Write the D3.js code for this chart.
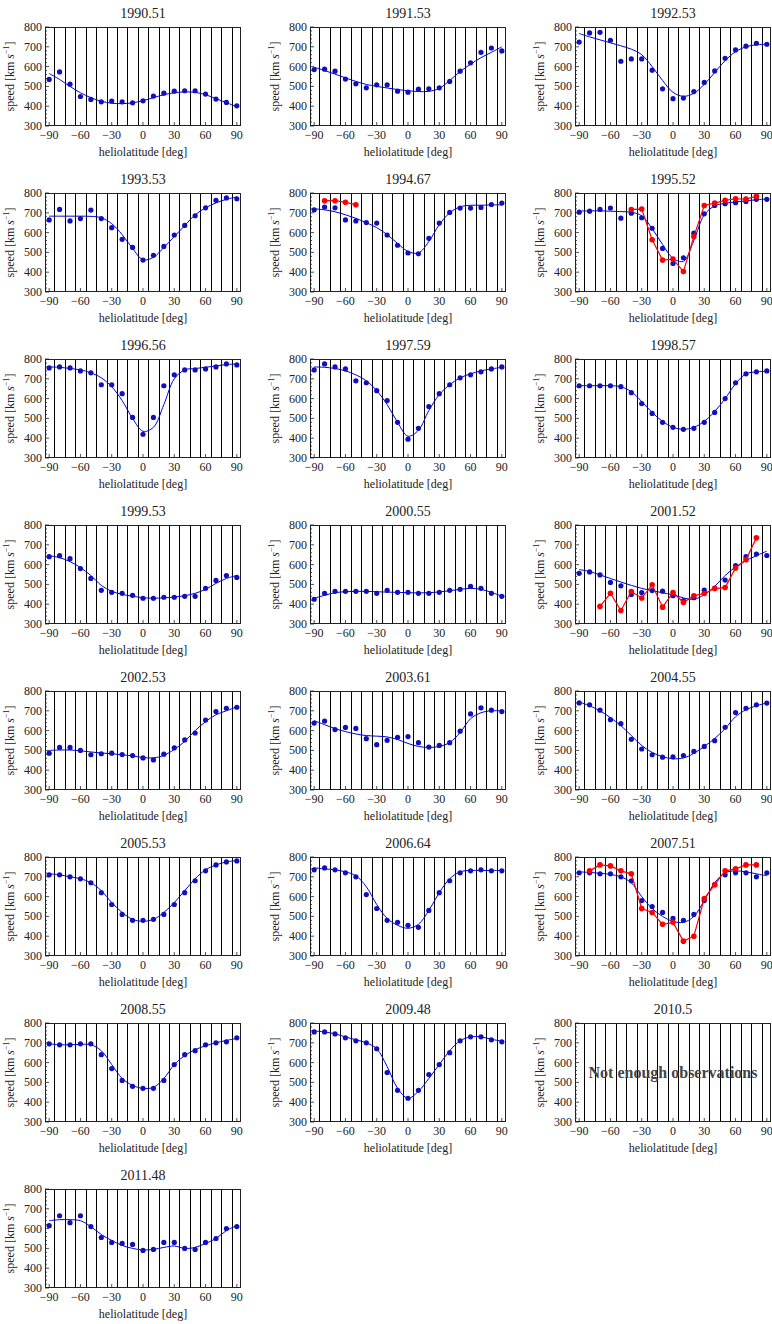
<!DOCTYPE html>
<html lang="en">
<head>
<meta charset="utf-8">
<script src="https://d3js.org/d3.v7.min.js"></script>
<style>
  body { margin: 0; background: #fff; }
</style>
</head>
<body>
<div id="chart"></div>
<script>
// latitudes of the bins and the bin borders
const lat = d3.range(-90, 91, 10);
const borders = d3.range(-85, 86, 10);
const yTicks = [300, 400, 500, 600, 700, 800];
const xTicks = [-90, -60, -30, 0, 30, 60, 90];

// blue points (measured) and blue smooth fit, one value per 10 deg
const d1990 = [535, 573, 511, 449, 434, 422, 426, 422, 417, 427, 451, 466, 476, 478, 478, 461, 436, 419, 402];
const f1990 = [565, 535, 500, 468, 443, 425, 415, 413, 417, 428, 443, 458, 468, 472, 470, 458, 438, 418, 397];
const d1991 = [585, 587, 577, 537, 513, 493, 508, 508, 476, 471, 486, 488, 493, 525, 577, 619, 672, 694, 679];
const f1991 = [597, 580, 562, 543, 525, 510, 500, 492, 484, 478, 474, 475, 490, 530, 575, 612, 645, 672, 700];
const d1992 = [724, 770, 773, 733, 627, 639, 639, 582, 488, 438, 441, 474, 520, 578, 642, 684, 703, 718, 713];
const f1992 = [767, 750, 735, 720, 705, 688, 660, 600, 530, 470, 450, 465, 510, 570, 630, 675, 700, 710, 713];
const d1993 = [664, 717, 659, 671, 714, 671, 625, 566, 525, 461, 485, 530, 588, 636, 685, 725, 763, 775, 771];
const f1993 = [683, 683, 683, 683, 682, 675, 645, 590, 520, 463, 475, 525, 580, 635, 690, 725, 750, 768, 780];
const d1994 = [715, 729, 725, 664, 659, 651, 648, 588, 536, 497, 493, 571, 648, 702, 724, 724, 727, 742, 749];
const f1994 = [720, 715, 705, 690, 672, 650, 625, 590, 545, 505, 497, 555, 640, 700, 730, 738, 738, 740, 740];
const d1995 = [703, 708, 717, 724, 673, 698, 675, 622, 520, 444, 473, 597, 695, 737, 746, 751, 757, 768, 768];
const f1995 = [708, 710, 710, 708, 706, 703, 685, 620, 540, 470, 455, 560, 690, 735, 748, 755, 760, 766, 770];
const d1996 = [755, 760, 755, 740, 730, 670, 670, 625, 505, 420, 505, 665, 720, 745, 745, 750, 760, 775, 770];
const f1996 = [760, 758, 752, 745, 730, 705, 660, 590, 500, 435, 455, 570, 700, 745, 752, 758, 765, 772, 775];
const d1997 = [745, 775, 760, 750, 690, 680, 640, 590, 480, 395, 450, 560, 625, 670, 705, 720, 735, 750, 760];
const f1997 = [760, 758, 752, 740, 720, 690, 640, 570, 480, 410, 440, 540, 620, 670, 705, 725, 740, 750, 758];
const d1998 = [665, 665, 665, 665, 660, 630, 575, 525, 480, 455, 445, 450, 480, 530, 600, 680, 725, 735, 740];
const f1998 = [665, 665, 665, 665, 660, 635, 585, 530, 485, 455, 445, 455, 485, 535, 600, 675, 725, 735, 738];
const d1999 = [640, 645, 630, 580, 530, 470, 460, 455, 445, 430, 430, 435, 435, 440, 440, 480, 520, 545, 535];
const f1999 = [645, 635, 615, 585, 545, 495, 465, 450, 440, 433, 430, 432, 436, 443, 455, 475, 505, 530, 545];
const d2000 = [425, 455, 465, 465, 465, 465, 455, 470, 460, 460, 455, 455, 460, 470, 475, 490, 480, 455, 440];
const f2000 = [430, 445, 458, 463, 465, 465, 463, 461, 460, 458, 457, 458, 462, 468, 475, 480, 475, 460, 440];
const d2001 = [556, 563, 548, 510, 493, 449, 459, 469, 466, 443, 418, 433, 471, 481, 522, 595, 640, 653, 646];
const f2001 = [575, 565, 548, 530, 512, 495, 480, 468, 458, 447, 432, 425, 448, 490, 545, 588, 620, 645, 668];
const d2002 = [486, 515, 515, 500, 478, 483, 486, 479, 474, 462, 452, 481, 513, 553, 588, 653, 696, 713, 718];
const f2002 = [500, 502, 502, 498, 492, 487, 483, 478, 472, 464, 462, 475, 505, 545, 600, 645, 680, 700, 720];
const d2003 = [638, 648, 605, 616, 611, 559, 529, 551, 566, 570, 539, 517, 525, 539, 597, 684, 715, 703, 696];
const f2003 = [650, 630, 610, 595, 583, 575, 572, 568, 555, 535, 520, 515, 520, 540, 590, 660, 690, 700, 700];
const d2004 = [740, 730, 703, 655, 635, 556, 507, 478, 466, 467, 474, 495, 520, 549, 617, 691, 713, 730, 739];
const f2004 = [745, 725, 700, 665, 625, 575, 525, 490, 468, 458, 462, 485, 520, 560, 610, 670, 705, 725, 740];
const d2005 = [710, 710, 700, 690, 670, 620, 560, 510, 480, 480, 485, 510, 560, 620, 680, 730, 760, 775, 780];
const f2005 = [715, 710, 700, 690, 670, 630, 570, 520, 485, 475, 485, 520, 570, 630, 690, 735, 760, 775, 782];
const d2006 = [735, 745, 735, 720, 700, 610, 540, 480, 470, 455, 445, 530, 620, 680, 720, 730, 735, 730, 730];
const f2006 = [745, 740, 735, 725, 705, 650, 560, 490, 455, 440, 460, 530, 620, 690, 725, 732, 732, 732, 732];
const d2007 = [720, 720, 715, 715, 700, 680, 580, 550, 520, 490, 480, 510, 580, 660, 710, 720, 720, 700, 720];
const f2007 = [725, 722, 718, 712, 700, 670, 600, 540, 500, 475, 470, 500, 580, 670, 720, 730, 725, 715, 705];
const d2008 = [695, 690, 690, 695, 695, 640, 570, 510, 480, 470, 470, 510, 590, 640, 660, 690, 700, 705, 725];
const f2008 = [695, 690, 690, 692, 690, 660, 590, 520, 485, 470, 475, 520, 590, 635, 665, 685, 700, 712, 722];
const d2009 = [755, 755, 745, 725, 710, 700, 670, 550, 460, 420, 460, 540, 590, 650, 710, 730, 730, 715, 705];
const f2009 = [760, 755, 745, 730, 715, 700, 670, 580, 470, 420, 455, 520, 590, 660, 710, 730, 730, 718, 708];
const d2011 = [615, 665, 630, 665, 610, 555, 530, 525, 520, 490, 495, 530, 530, 500, 495, 530, 550, 600, 610];
const f2011 = [640, 645, 645, 640, 610, 570, 540, 515, 500, 492, 495, 505, 512, 500, 505, 525, 550, 590, 615];

// red series: latitudes and values
const rLat1994 = [-80, -70, -60, -50];
const r1994 = [761, 761, 753, 741];
const rLat1995 = d3.range(-40, 81, 10);
const r1995 = [717, 719, 564, 461, 466, 403, 580, 737, 749, 763, 771, 769, 783];
const rLat2001 = d3.range(-70, 81, 10);
const r2001 = [389, 455, 368, 464, 431, 498, 385, 459, 409, 443, 454, 479, 484, 583, 624, 735];
const rLat2007 = d3.range(-80, 81, 10);
const r2007 = [730, 760, 755, 730, 715, 540, 520, 460, 470, 375, 400, 590, 660, 730, 740, 760, 760];

const titles = ["1990.51", "1991.53", "1992.53", "1993.53", "1994.67", "1995.52",
  "1996.56", "1997.59", "1998.57", "1999.53", "2000.55", "2001.52",
  "2002.53", "2003.61", "2004.55", "2005.53", "2006.64", "2007.51",
  "2008.55", "2009.48", "2010.5", "2011.48"];
const dots = [d1990, d1991, d1992, d1993, d1994, d1995, d1996, d1997, d1998, d1999, d2000, d2001,
  d2002, d2003, d2004, d2005, d2006, d2007, d2008, d2009, null, d2011];
const fits = [f1990, f1991, f1992, f1993, f1994, f1995, f1996, f1997, f1998, f1999, f2000, f2001,
  f2002, f2003, f2004, f2005, f2006, f2007, f2008, f2009, null, f2011];
const reds = { 4: [rLat1994, r1994], 5: [rLat1995, r1995], 11: [rLat2001, r2001], 17: [rLat2007, r2007] };

// layout
const W = 772, H = 1324;
const colX = [45, 310, 575];
const pw = 196, ph = 99;
const top0 = 27, rowStep = 166;
const serif = "'Liberation Serif', 'Times New Roman', serif";

const svg = d3.select("#chart").append("svg")
  .attr("width", W).attr("height", H)
  .attr("font-family", serif);

const x = d3.scaleLinear().domain([-94, 94]).range([0, pw]);
const y = d3.scaleLinear().domain([300, 800]).range([ph, 0]);

const blue = "#0000dd", dotBlue = "#1111bb", red = "#ff0000";

titles.forEach((t, i) => {
  const col = i % 3, row = Math.floor(i / 3);
  const g = svg.append("g")
    .attr("transform", `translate(${colX[col]},${top0 + row * rowStep})`)
    .attr("font-family", serif).attr("fill", "#222");

  // title
  g.append("text").attr("x", pw / 2).attr("y", -9)
    .attr("text-anchor", "middle").attr("font-size", 14).text(t);

  // bin borders
  g.selectAll(".bd").data(borders).enter().append("line")
    .attr("x1", d => Math.round(x(d)) + 0.5).attr("x2", d => Math.round(x(d)) + 0.5)
    .attr("y1", 0).attr("y2", ph)
    .attr("stroke", "#000").attr("stroke-width", 1);

  // frame
  g.append("rect").attr("x", 0.5).attr("y", 0.5).attr("width", pw - 1).attr("height", ph - 1)
    .attr("fill", "none").attr("stroke", "#222").attr("stroke-width", 1);

  // left ticks (inside), major + minor
  g.selectAll(".yt").data(d3.range(300, 801, 20)).enter().append("line")
    .attr("x1", 0).attr("x2", d => d % 100 === 0 ? 4 : 2)
    .attr("y1", d => y(d)).attr("y2", d => y(d))
    .attr("stroke", "#222").attr("stroke-width", 0.8);

  // bottom ticks
  g.selectAll(".xt").data(xTicks).enter().append("line")
    .attr("x1", d => x(d)).attr("x2", d => x(d))
    .attr("y1", ph).attr("y2", ph - 4)
    .attr("stroke", "#222").attr("stroke-width", 0.8);

  // tick labels
  g.selectAll(".yl").data(yTicks).enter().append("text")
    .attr("x", -3).attr("y", d => y(d) + 4)
    .attr("text-anchor", "end").attr("font-size", 12).text(d => d);
  g.selectAll(".xl").data(xTicks).enter().append("text")
    .attr("x", d => x(d)).attr("y", ph + 13)
    .attr("text-anchor", "middle").attr("font-size", 12)
    .text(d => d < 0 ? "\u2212" + Math.abs(d) : d);

  // axis titles
  g.append("text").attr("x", pw / 2).attr("y", ph + 30)
    .attr("text-anchor", "middle").attr("font-size", 12).text("heliolatitude [deg]");
  const yl = g.append("text")
    .attr("transform", `translate(-31,${ph / 2}) rotate(-90)`)
    .attr("text-anchor", "middle").attr("font-size", 12);
  yl.append("tspan").text("speed [km ");
  yl.append("tspan").attr("font-style", "italic").text("s");
  yl.append("tspan").attr("dy", -5).attr("font-size", 8).text("\u22121");
  yl.append("tspan").attr("dy", 5).text("]");

  if (!dots[i]) {
    g.append("text").attr("x", pw / 2).attr("y", ph / 2 + 5)
      .attr("text-anchor", "middle").attr("font-size", 16)
      .attr("font-weight", "bold").attr("fill", "#444")
      .text("Not enough observations");
    return;
  }

  const line = d3.line().x(d => x(d[0])).y(d => y(d[1])).curve(d3.curveCatmullRom.alpha(0.5));
  g.append("path").datum(lat.map((l, k) => [l, fits[i][k]]))
    .attr("d", line).attr("fill", "none").attr("stroke", blue).attr("stroke-width", 1);

  g.selectAll(".dot").data(lat.map((l, k) => [l, dots[i][k]])).enter().append("circle")
    .attr("cx", d => x(d[0])).attr("cy", d => y(d[1])).attr("r", 2.6).attr("fill", dotBlue);

  if (reds[i]) {
    const pts = reds[i][0].map((l, k) => [l, reds[i][1][k]]);
    g.append("path").datum(pts)
      .attr("d", d3.line().x(d => x(d[0])).y(d => y(d[1])))
      .attr("fill", "none").attr("stroke", red).attr("stroke-width", 1.2);
    g.selectAll(".rdot").data(pts).enter().append("circle")
      .attr("cx", d => x(d[0])).attr("cy", d => y(d[1])).attr("r", 2.8).attr("fill", red);
  }
});
</script>
</body>
</html>
